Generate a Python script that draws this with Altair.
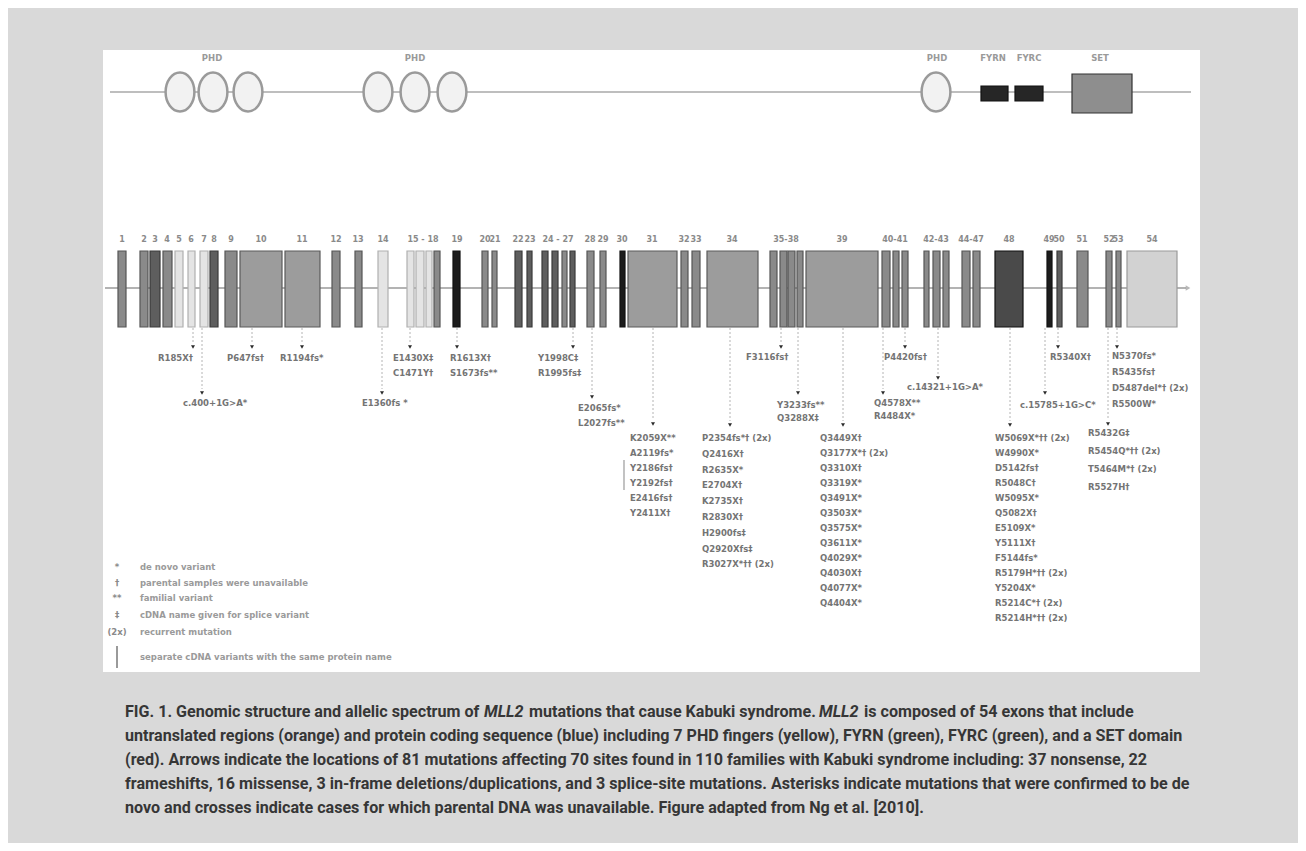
import altair as alt
import pandas as pd

# ---------------- data (diagram units) ----------------
# protein domain track
phd_x = [180, 213, 248, 378, 415, 452, 936]
domain_label_text = ["PHD", "PHD", "PHD", "FYRN", "FYRC", "SET"]
domain_label_x = [212, 415, 937, 993, 1029, 1100]
box_name = ["FYRN", "FYRC", "SET"]
box_x0 = [981, 1015, 1072]
box_x1 = [1008, 1043, 1132]
box_y0 = [86, 86, 74]
box_y1 = [101, 101, 113]
box_tone = ["fyr", "fyr", "set"]

# gene track: 54 exons
exon_x0 = [118, 140, 150, 163, 175, 188, 200, 210, 225, 240, 285, 332, 355, 378, 407, 416, 426, 434, 453, 482,
           492, 515, 527, 542, 552, 562, 570, 587, 600, 620, 628, 681, 692, 707, 770, 780, 788, 797, 806, 882,
           893, 902, 924, 933, 943, 962, 973, 995, 1047, 1057, 1077, 1106, 1116, 1127]
exon_x1 = [126, 148, 160, 172, 183, 195, 208, 218, 237, 282, 320, 340, 362, 388, 414, 424, 432, 440, 460, 488,
           497, 522, 532, 548, 558, 567, 575, 594, 606, 625, 677, 688, 700, 758, 777, 787, 795, 803, 878, 890,
           899, 908, 929, 940, 949, 970, 980, 1023, 1052, 1062, 1088, 1112, 1121, 1177]
exon_tone = ["mid", "mid", "dark", "mid", "light", "light", "light", "dark", "mid", "big",
             "big", "mid", "mid", "light", "light", "light", "light", "mid", "black", "mid",
             "mid", "dark", "dark", "dark", "dark", "mid", "dark", "mid", "mid", "black",
             "big", "mid", "mid", "big", "mid", "mid", "mid", "mid", "big", "mid",
             "mid", "mid", "mid", "mid", "mid", "mid", "mid", "darkbig", "black", "dark",
             "mid", "mid", "mid", "lightbig"]
exon_label_text = ["1", "2", "3", "4", "5", "6", "7", "8", "9", "10", "11", "12", "13", "14", "15 - 18", "19",
                   "20", "21", "22", "23", "24 - 27", "28", "29", "30", "31", "32", "33", "34", "35-38", "39",
                   "40-41", "42-43", "44-47", "48", "49", "50", "51", "52", "53", "54"]
exon_label_x = [122, 144, 155, 167, 179, 191, 204, 214, 231, 261, 302, 336, 358, 383, 423, 457,
                485, 495, 518, 530, 558, 590, 603, 622, 652, 684, 696, 732, 786, 842,
                895, 936, 971, 1009, 1049, 1059, 1082, 1109, 1118, 1152]

# mutations: arrow position, label position, row gap, labels
mut_arrow_x = [193, 202, 252, 302, 382, 410, 457, 573, 592, 653, 730, 781, 798, 843, 905, 938, 883, 1010,
               1045, 1058, 1117, 1108]
mut_arrow_y = [347, 393, 347, 347, 393, 347, 347, 347, 397, 424, 425, 347, 393, 425, 347, 378, 393, 425,
               393, 347, 347, 424]
mut_text_x = [158, 183, 227, 280, 362, 393, 450, 538, 578, 630, 702, 746, 777, 820, 884, 907, 874, 995,
              1020, 1050, 1112, 1088]
mut_text_y = [358, 403, 358, 358, 403, 358, 358, 358, 408, 438, 438, 357, 405, 438, 357, 387, 403, 438,
              405, 357, 356, 433]
mut_row_gap = [15, 15, 15, 15, 15, 15, 15, 15, 15, 15, 15.8, 15, 12.5, 15, 15, 15, 12.5, 15, 15, 15, 16, 18]
mut_labels = [
    ["R185X†"],
    ["c.400+1G>A*"],
    ["P647fs†"],
    ["R1194fs*"],
    ["E1360fs *"],
    ["E1430X‡", "C1471Y†"],
    ["R1613X†", "S1673fs**"],
    ["Y1998C‡", "R1995fs‡"],
    ["E2065fs*", "L2027fs**"],
    ["K2059X**", "A2119fs*", "Y2186fs†", "Y2192fs†", "E2416fs†", "Y2411X†"],
    ["P2354fs*† (2x)", "Q2416X†", "R2635X*", "E2704X†", "K2735X†", "R2830X†", "H2900fs‡", "Q2920Xfs‡",
     "R3027X*†† (2x)"],
    ["F3116fs†"],
    ["Y3233fs**", "Q3288X‡"],
    ["Q3449X†", "Q3177X*† (2x)", "Q3310X†", "Q3319X*", "Q3491X*", "Q3503X*", "Q3575X*", "Q3611X*",
     "Q4029X*", "Q4030X†", "Q4077X*", "Q4404X*"],
    ["P4420fs†"],
    ["c.14321+1G>A*"],
    ["Q4578X**", "R4484X*"],
    ["W5069X*†† (2x)", "W4990X*", "D5142fs†", "R5048C†", "W5095X*", "Q5082X†", "E5109X*", "Y5111X†",
     "F5144fs*", "R5179H*†† (2x)", "Y5204X*", "R5214C*† (2x)", "R5214H*†† (2x)"],
    ["c.15785+1G>C*"],
    ["R5340X†"],
    ["N5370fs*", "R5435fs†", "D5487del*† (2x)", "R5500W*"],
    ["R5432G‡", "R5454Q*†† (2x)", "T5464M*† (2x)", "R5527H†"],
]
# bracket joining separate cDNA variants with same protein name
bracket_x = [624]
bracket_y0 = [460]
bracket_y1 = [490]

# legend
legend_symbol = ["*", "†", "**", "‡", "(2x)", ""]
legend_text = ["de novo variant", "parental samples were unavailable", "familial variant",
               "cDNA name given for splice variant", "recurrent mutation",
               "separate cDNA variants with the same protein name"]
legend_y = [567, 583, 598, 615, 632, 657]

# caption
cap_lines = [
    "untranslated regions (orange) and protein coding sequence (blue) including 7 PHD fingers (yellow), FYRN (green), FYRC (green), and a SET domain",
    "(red). Arrows indicate the locations of 81 mutations affecting 70 sites found in 110 families with Kabuki syndrome including: 37 nonsense, 22",
    "frameshifts, 16 missense, 3 in-frame deletions/duplications, and 3 splice-site mutations. Asterisks indicate mutations that were confirmed to be de",
    "novo and crosses indicate cases for which parental DNA was unavailable. Figure adapted from Ng et al. [2010].",
]
cap_first_segments = ["FIG. 1.  Genomic structure and allelic spectrum of", "MLL2",
                      "mutations that cause Kabuki syndrome.", "MLL2", "is composed of 54 exons that include"]
cap_first_italic = [False, True, False, True, False]
cap_first_x = [125, 484, 529, 819, 864]

# ---------------- layout constants ----------------
PROT_Y = 92
GENE_Y = 288
EXON_TOP, EXON_BOT = 251, 327
CAP_Y0, CAP_GAP = 712, 24
TXT = "#747474"

X = alt.Scale(domain=[8, 1298], range=[0, 1290])
Y = alt.Scale(domain=[8, 843], range=[0, 835])


def xq(f):
    return alt.X(f, type="quantitative", scale=X, axis=None)


def yq(f):
    return alt.Y(f, type="quantitative", scale=Y, axis=None)


# ---------------- tables ----------------
panel = pd.DataFrame({"x0": [103], "x1": [1200], "y0": [50], "y1": [672]})
prot_line = pd.DataFrame({"x0": [110], "x1": [1191], "y": [PROT_Y]})
gene_line = pd.DataFrame({"x0": [105], "x1": [1186], "y": [GENE_Y]})
gene_tip = pd.DataFrame({"x": [1188], "y": [GENE_Y]})
phd = pd.DataFrame({"x": phd_x, "y": [PROT_Y] * len(phd_x)})
dlab = pd.DataFrame({"x": domain_label_x, "y": [58] * len(domain_label_x), "t": domain_label_text})
boxes = pd.DataFrame({"x0": box_x0, "x1": box_x1, "y0": box_y0, "y1": box_y1, "tone": box_tone})
exons = pd.DataFrame({"x0": exon_x0, "x1": exon_x1, "y0": [EXON_TOP] * 54, "y1": [EXON_BOT] * 54,
                      "tone": exon_tone})
elab = pd.DataFrame({"x": exon_label_x, "y": [240] * len(exon_label_x), "t": exon_label_text})

rows = []
for gx, gy, tx, ty, gap, labs in zip(mut_arrow_x, mut_arrow_y, mut_text_x, mut_text_y, mut_row_gap, mut_labels):
    for j, t in enumerate(labs):
        rows.append({"x": tx, "y": ty + j * gap, "t": t})
mtext = pd.DataFrame(rows)
conn = pd.DataFrame({"x": mut_arrow_x, "y0": [EXON_BOT + 1] * len(mut_arrow_x),
                     "y1": [v - 4 for v in mut_arrow_y]})
arrows = pd.DataFrame({"x": mut_arrow_x, "y": mut_arrow_y})
brk = pd.DataFrame({"x": bracket_x, "y0": bracket_y0, "y1": bracket_y1})

leg = pd.DataFrame({"y": legend_y, "s": legend_symbol, "t": legend_text,
                    "xs": [117] * 6, "xt": [140] * 6})
leg_bar = pd.DataFrame({"x": [117], "y0": [646], "y1": [668]})

cap_rows = [{"x": x, "y": CAP_Y0, "t": t, "it": it}
            for x, t, it in zip(cap_first_x, cap_first_segments, cap_first_italic)]
for i, t in enumerate(cap_lines):
    cap_rows.append({"x": 125, "y": CAP_Y0 + (i + 1) * CAP_GAP, "t": t, "it": False})
cap = pd.DataFrame(cap_rows)

tone_dom = ["light", "mid", "dark", "black", "big", "darkbig", "lightbig", "fyr", "set"]
fill_rng = ["#e4e4e4", "#8a8a8a", "#5e5e5e", "#1c1c1c", "#9c9c9c", "#4a4a4a", "#d2d2d2", "#262626", "#8e8e8e"]
stroke_rng = ["#b0b0b0", "#555555", "#3a3a3a", "#111111", "#5a5a5a", "#111111", "#9a9a9a", "#111111",
              "#333333"]
fillenc = alt.Fill("tone:N", scale=alt.Scale(domain=tone_dom, range=fill_rng), legend=None)
strokeenc = alt.Stroke("tone:N", scale=alt.Scale(domain=tone_dom, range=stroke_rng), legend=None)

MUTFONT = "DejaVu Sans"
CAPFONT = "Roboto"
CAPSIZE = 16.1

layers = [
    alt.Chart(panel).mark_rect(fill="white").encode(x=xq("x0"), x2="x1", y=yq("y0"), y2="y1"),
    # protein track
    alt.Chart(prot_line).mark_rule(color="#a8a8a8", strokeWidth=1.5).encode(x=xq("x0"), x2="x1", y=yq("y")),
    alt.Chart(phd).mark_point(
        shape="M -1 0 A 1 1.35 0 1 1 1 0 A 1 1.35 0 1 1 -1 0 Z",
        filled=True, fill="#f2f2f2", stroke="#9a9a9a", strokeWidth=2.5, size=830, opacity=1
    ).encode(x=xq("x"), y=yq("y")),
    alt.Chart(boxes).mark_rect(strokeWidth=1.2).encode(x=xq("x0"), x2="x1", y=yq("y0"), y2="y1",
                                                       fill=fillenc, stroke=strokeenc),
    alt.Chart(dlab).mark_text(font=MUTFONT, fontSize=8.5, fontWeight="bold", color="#9a9a9a").encode(
        x=xq("x"), y=yq("y"), text="t:N"),
    # gene track
    alt.Chart(gene_line).mark_rule(color="#9a9a9a", strokeWidth=1.5).encode(x=xq("x0"), x2="x1", y=yq("y")),
    alt.Chart(gene_tip).mark_point(shape="triangle-right", filled=True, color="#9a9a9a", size=28).encode(
        x=xq("x"), y=yq("y")),
    alt.Chart(exons).mark_rect(strokeWidth=1.2).encode(x=xq("x0"), x2="x1", y=yq("y0"), y2="y1",
                                                       fill=fillenc, stroke=strokeenc),
    alt.Chart(elab).mark_text(font=MUTFONT, fontSize=8, fontWeight="bold", color="#8a8a8a").encode(
        x=xq("x"), y=yq("y"), text="t:N"),
    # mutations
    alt.Chart(conn).mark_rule(color="#b4b4b4", strokeWidth=1, strokeDash=[2, 2]).encode(
        x=xq("x"), y=yq("y0"), y2="y1"),
    alt.Chart(arrows).mark_point(shape="triangle-down", filled=True, color="#2a2a2a", size=16, opacity=1).encode(
        x=xq("x"), y=yq("y")),
    alt.Chart(brk).mark_rule(color="#9a9a9a", strokeWidth=1.2).encode(x=xq("x"), y=yq("y0"), y2="y1"),
    alt.Chart(mtext).mark_text(align="left", baseline="middle", font=MUTFONT, fontSize=8.5,
                               fontWeight="bold", color=TXT).encode(x=xq("x"), y=yq("y"), text="t:N"),
    # legend
    alt.Chart(leg).mark_text(align="center", baseline="middle", font=MUTFONT, fontSize=8.5,
                             fontWeight="bold", color="#8a8a8a").encode(x=xq("xs"), y=yq("y"), text="s:N"),
    alt.Chart(leg).mark_text(align="left", baseline="middle", font=MUTFONT, fontSize=8.5,
                             fontWeight="bold", color="#9a9a9a").encode(x=xq("xt"), y=yq("y"), text="t:N"),
    alt.Chart(leg_bar).mark_rule(color="#9a9a9a", strokeWidth=2).encode(x=xq("x"), y=yq("y0"), y2="y1"),
    # caption
    alt.Chart(cap).transform_filter("!datum.it").mark_text(
        align="left", baseline="middle", font=CAPFONT, fontSize=CAPSIZE, fontWeight="bold", color="#363636"
    ).encode(x=xq("x"), y=yq("y"), text="t:N"),
    alt.Chart(cap).transform_filter("datum.it").mark_text(
        align="left", baseline="middle", font=CAPFONT, fontSize=CAPSIZE, fontWeight="bold", fontStyle="italic",
        color="#363636"
    ).encode(x=xq("x"), y=yq("y"), text="t:N"),
]

chart = alt.layer(*layers).properties(
    width=1290, height=835, padding=0, autosize="none", background="#d9d9d9"
).configure_view(stroke=None)

chart.save("out.html", embed_options={"renderer": "svg", "actions": False})
